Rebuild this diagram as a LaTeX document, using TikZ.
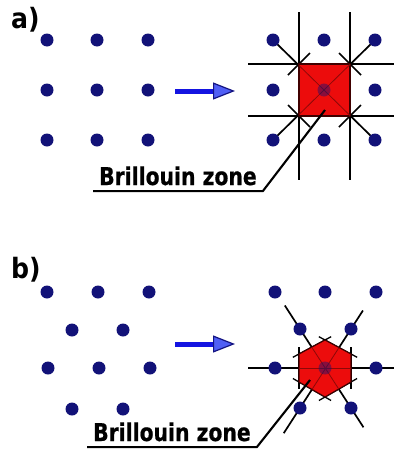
\documentclass[tikz,border=0pt]{standalone}
\usepackage{fontspec}
\setmainfont{Liberation Sans}
\newfontfamily\lblfont[FakeStretch=0.83,FakeBold=0.6]{DejaVu Sans Bold}
\newfontfamily\tagfont[FakeStretch=0.9]{DejaVu Sans Bold}
\usetikzlibrary{arrows.meta}
\definecolor{dotnavy}{RGB}{18,18,120}
\definecolor{zonered}{RGB}{236,12,12}
\definecolor{innerred}{RGB}{140,8,8}
\definecolor{arrowblue}{RGB}{20,20,225}
\definecolor{arrowfill}{RGB}{80,95,245}
\definecolor{arrowedge}{RGB}{20,20,130}
\pgfdeclarelayer{back}
\pgfsetlayers{back,main}
\tikzset{
  latdot/.style={circle, fill=dotnavy, inner sep=0pt, minimum size=13pt},
  bisectline/.style={draw=black, line width=1.7pt},
  innerline/.style={draw=innerred, line width=0.8pt},
  zonefill/.style={fill=zonered, draw=black!75!red, line width=1.1pt, line join=round},
  paneltag/.style={font=\tagfont\fontsize{28}{28}\selectfont, anchor=base west, inner sep=0pt},
  lbl/.style={font=\lblfont\fontsize{24.5}{24.5}\selectfont, anchor=base west, inner xsep=6pt, inner ysep=5.5pt},
  leaderline/.style={draw=black, line width=2.1pt},
  shiftarrow/.style={draw=arrowblue, line width=5pt, -{Triangle[length=22pt,width=17pt,line width=1.2pt,color=arrowedge,fill=arrowfill]}},
}
\begin{document}
\begin{tikzpicture}[x=1pt,y=-1pt]
\useasboundingbox (0,0) rectangle (394,453);

% panel labels
\node[paneltag] (ta) at (11,28) {a)};
\node[paneltag] (tb) at (11,278) {b)};

% ---------- panel a ----------
\foreach \x/\i in {47/1,97/2,148/3}
  \foreach \y/\j in {40/1,90/2,140/3}
    \node[latdot] (L\i\j) at (\x,\y) {};

\coordinate (arA1) at (175,91);
\coordinate (arA2) at (235,91);
\draw[shiftarrow] (arA1) -- (arA2);

\foreach \x/\i in {273/1,324/2,375/3}
  \foreach \y/\j in {40/1,90/2,140/3}
    \node[latdot] (R\i\j) at (\x,\y) {};

\begin{pgfonlayer}{back}
  \fill[white] (0,0) rectangle (394,453);
  \draw[bisectline] (299,12) -- (299,180);
  \draw[bisectline] (350,12) -- (350,180);
  \draw[bisectline] (248,64) -- (394,64);
  \draw[bisectline] (248,116) -- (394,116);
  \draw[bisectline] (R11.center) -- (R33.center);
  \draw[bisectline] (R31.center) -- (R13.center);
  \draw[bisectline] (288,75) -- (310,53);
  \draw[bisectline] (339,53) -- (361,75);
  \draw[bisectline] (288,105) -- (310,127);
  \draw[bisectline] (339,127) -- (361,105);
\end{pgfonlayer}

\coordinate (sqA) at (299,64);
\coordinate (sqB) at (350,116);
\filldraw[zonefill] (sqA) rectangle (sqB);
\begin{scope}
  \clip (sqA) rectangle (sqB);
  \draw[innerline] (R11.center) -- (R33.center);
  \draw[innerline] (R31.center) -- (R13.center);
\end{scope}
\node[latdot, fill opacity=0.45] (R22t) at (R22) {};

\node[lbl] (lblA) at (93,185) {Brillouin zone};
\coordinate (zA) at (325,110);
\draw[leaderline] (lblA.south west) -- (lblA.south east) -- (zA);

% ---------- panel b ----------
\foreach \x/\i in {47/1,98/2,149/3}
  \node[latdot] (P1\i) at (\x,292) {};
\foreach \x/\i in {72/1,123/2}
  \node[latdot] (P2\i) at (\x,330) {};
\foreach \x/\i in {48/1,99/2,150/3}
  \node[latdot] (P3\i) at (\x,368) {};
\foreach \x/\i in {72/1,123/2}
  \node[latdot] (P4\i) at (\x,409) {};

\coordinate (arB1) at (175,344);
\coordinate (arB2) at (235,344);
\draw[shiftarrow] (arB1) -- (arB2);

\foreach \x/\i in {275/1,325/2,376/3}
  \node[latdot] (Q1\i) at (\x,292) {};
\foreach \x/\i in {300/1,351/2}
  \node[latdot] (Q2\i) at (\x,329) {};
\foreach \x/\i in {275/1,325/2,376/3}
  \node[latdot] (Q3\i) at (\x,368) {};
\foreach \x/\i in {300/1,351/2}
  \node[latdot] (Q4\i) at (\x,408) {};

\coordinate (h1) at (325,340);
\coordinate (h2) at (351,354);
\coordinate (h3) at (351,382);
\coordinate (h4) at (325,397);
\coordinate (h5) at (299,382);
\coordinate (h6) at (299,354);

\begin{pgfonlayer}{back}
  \draw[bisectline, shorten <=-27pt, shorten >=-18pt] (Q31.center) -- (Q33.center);
  \draw[bisectline, shorten <=-28pt, shorten >=-23pt] (Q21.center) -- (Q42.center);
  \draw[bisectline, shorten <=-22pt, shorten >=-30pt] (Q22.center) -- (Q41.center);
  \foreach \a/\b in {h1/h2,h2/h3,h3/h4,h4/h5,h5/h6,h6/h1}
    \draw[bisectline, line width=1.3pt, shorten <=-7pt, shorten >=-7pt] (\a) -- (\b);
\end{pgfonlayer}

\filldraw[zonefill] (h1) -- (h2) -- (h3) -- (h4) -- (h5) -- (h6) -- cycle;
\begin{scope}
  \clip (h1) -- (h2) -- (h3) -- (h4) -- (h5) -- (h6) -- cycle;
  \draw[innerline] (Q31.center) -- (Q33.center);
  \draw[innerline] (Q21.center) -- (Q42.center);
  \draw[innerline] (Q22.center) -- (Q41.center);
\end{scope}
\node[latdot, fill opacity=0.45] (Q32t) at (Q32) {};

\node[lbl] (lblB) at (87,441) {Brillouin zone};
\coordinate (zB) at (310,380);
\draw[leaderline] (lblB.south west) -- (lblB.south east) -- (zB);
\end{tikzpicture}
\end{document}
